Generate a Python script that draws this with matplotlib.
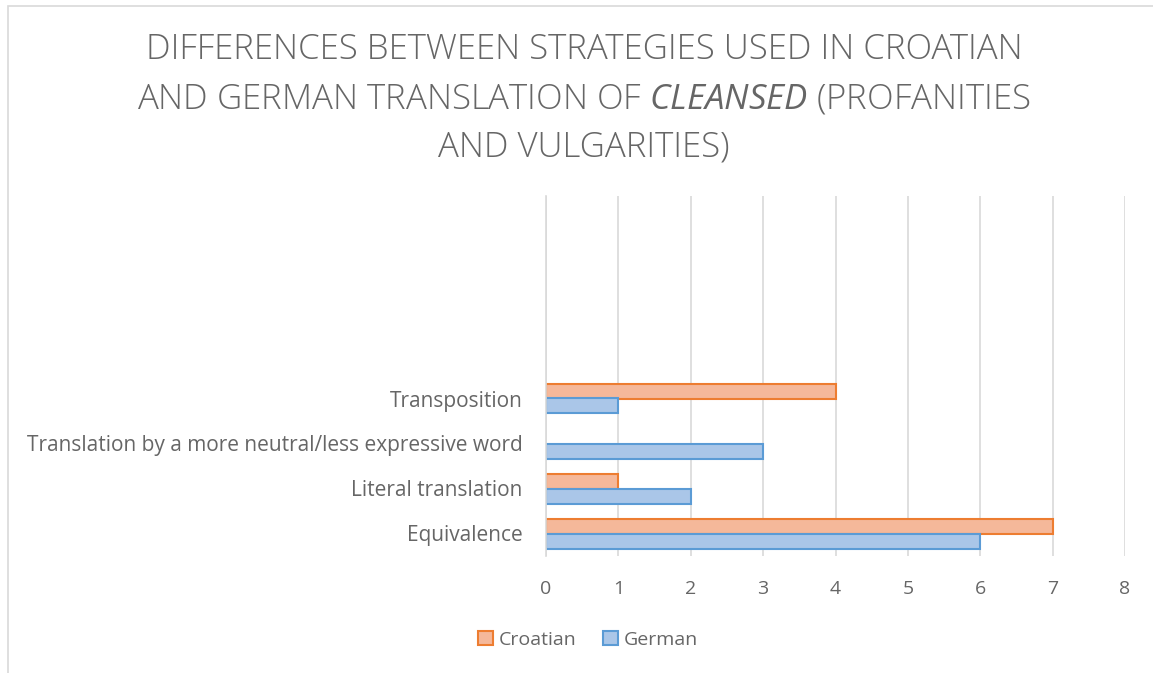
import numpy as np
import matplotlib
matplotlib.use("Agg")
import matplotlib.pyplot as plt
from matplotlib.patches import Rectangle, Patch

plt.rcParams['font.family'] = ['Open Sans', 'DejaVu Sans']
plt.rcParams['mathtext.fontset'] = 'custom'
plt.rcParams['mathtext.it'] = 'Open Sans:italic'
plt.rcParams['mathtext.rm'] = 'Open Sans'

# data (bottom to top); the chart keeps four empty category slots on top
categories = ["Equivalence", "Literal translation",
              "Translation by a more neutral/less expressive word",
              "Transposition", "", "", "", ""]
croatian = [7, 1, 0, 4, 0, 0, 0, 0]
german = [6, 2, 3, 1, 0, 0, 0, 0]
xticks = [0, 1, 2, 3, 4, 5, 6, 7, 8]

gray = "#666666"
W, H = 1153, 673
fig = plt.figure(figsize=(W / 100, H / 100), dpi=100)

# chart border
fig.patches.append(Rectangle((8 / W, -0.1), 1.2, 1 - 6 / H + 0.1, transform=fig.transFigure,
                             fill=False, edgecolor="#D9D9D9", linewidth=1.2))

ax = fig.add_axes([546 / W, 1 - 556 / H, (1125 - 546) / W, 360 / H])

y = np.arange(len(categories))
h = 1 / 3
b1 = ax.barh(y + h / 2, croatian, height=h, color="#F5B89A", edgecolor="#ED7D31", linewidth=1.5,
             label="Croatian")
b2 = ax.barh(y - h / 2, german, height=h, color="#AAC6E8", edgecolor="#5B9BD5", linewidth=1.5,
             label="German")
for bars in (b1, b2):
    for r in bars:
        if r.get_width() == 0:
            r.set_visible(False)

ax.set_xlim(0, 8)
ax.set_ylim(-0.5, len(categories) - 0.5)
ax.set_xticks(xticks)
ax.set_yticks(y)
ax.set_yticklabels(categories)
ax.tick_params(axis="both", length=0, colors=gray)
ax.tick_params(axis="x", pad=17.5, labelsize=14)
ax.tick_params(axis="y", pad=17, labelsize=15)
ax.grid(axis="x", color="#D9D9D9", linewidth=1.2)
ax.set_axisbelow(True)
for s in ["top", "right", "bottom"]:
    ax.spines[s].set_visible(False)
ax.spines["left"].set_color("#D9D9D9")
ax.spines["left"].set_linewidth(1.2)

# title
tx = 584 / W
tkw = dict(ha="center", va="center", fontsize=25, color=gray, fontweight="light")
fig.text(tx, 1 - 50 / H, "DIFFERENCES BETWEEN STRATEGIES USED IN CROATIAN", **tkw)
fig.text(tx, 1 - 99 / H, r"AND GERMAN TRANSLATION OF $\it{CLEANSED}$ (PROFANITIES", **tkw)
fig.text(tx, 1 - 147 / H, "AND VULGARITIES)", **tkw)

handles = [Patch(facecolor="#F5B89A", edgecolor="#ED7D31", linewidth=1.5, label="Croatian"),
           Patch(facecolor="#AAC6E8", edgecolor="#5B9BD5", linewidth=1.5, label="German")]
leg = fig.legend(handles=handles, loc="center", bbox_to_anchor=(588 / W, 1 - 640 / H), ncol=2,
                 frameon=False, fontsize=14, handlelength=0.75, handleheight=0.75,
                 handletextpad=0.3, columnspacing=1.4)
for t in leg.get_texts():
    t.set_color(gray)

fig.savefig("out.png", dpi=100)
